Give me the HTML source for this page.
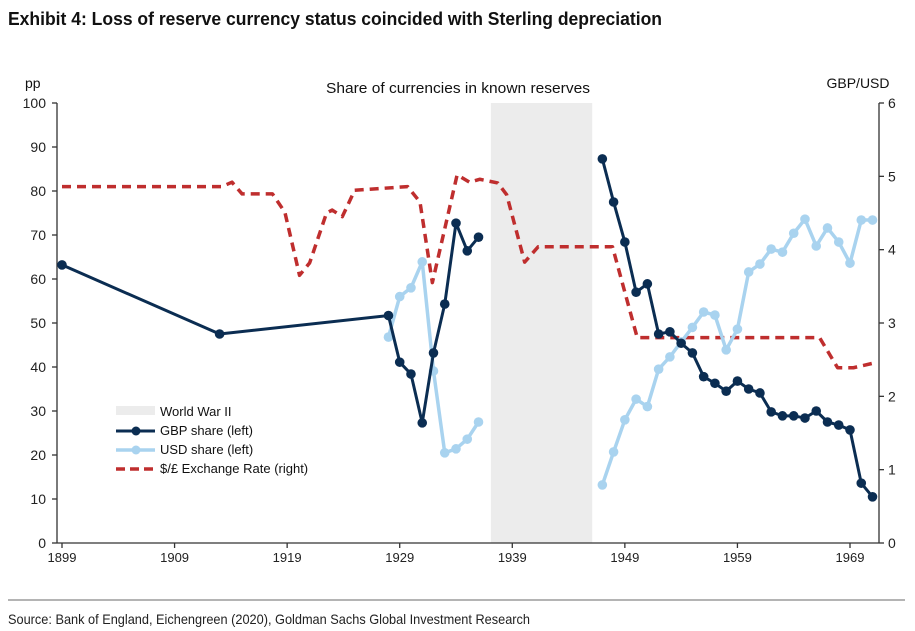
<!DOCTYPE html>
<html><head><meta charset="utf-8"><style>
html,body{margin:0;padding:0;background:#fff;}
svg{display:block;font-family:"Liberation Sans",Arial,sans-serif;}
</style></head><body>
<svg id="chart" width="915" height="631" viewBox="0 0 915 631">
<text x="8" y="25" font-size="18" font-weight="bold" fill="#111" textLength="654" lengthAdjust="spacingAndGlyphs">Exhibit 4: Loss of reserve currency status coincided with Sterling depreciation</text>
<text x="25" y="88" font-size="14" fill="#111">pp</text>
<text x="458" y="93" font-size="15" fill="#111" text-anchor="middle" textLength="264" lengthAdjust="spacingAndGlyphs">Share of currencies in known reserves</text>
<text x="858" y="88" font-size="14" fill="#111" text-anchor="middle">GBP/USD</text>
<g id="plot"></g>
<line x1="8" y1="600" x2="905" y2="600" stroke="#888" stroke-width="1.2"/>
<text x="8" y="624" font-size="14" fill="#222" textLength="522" lengthAdjust="spacingAndGlyphs">Source: Bank of England, Eichengreen (2020), Goldman Sachs Global Investment Research</text>
</svg>
<script>
const preYears=[1899,1913,1928,1929,1930,1931,1932,1933,1934,1935,1936];
const preGBP=[63.2,47.5,51.7,41.1,38.4,27.3,43.2,54.3,72.7,66.4,69.5];
const preUSDYears=[1928,1929,1930,1931,1932,1933,1934,1935,1936];
const preUSD=[46.8,56,58,63.9,39.1,20.5,21.4,23.6,27.5];
const postYears=[1947,1948,1949,1950,1951,1952,1953,1954,1955,1956,1957,1958,1959,1960,1961,1962,1963,1964,1965,1966,1967,1968,1969,1970,1971];
const postGBP=[87.3,77.5,68.4,57,58.9,47.5,48,45.4,43.2,37.8,36.3,34.5,36.8,35,34.1,29.8,28.9,28.9,28.4,30,27.5,26.8,25.7,13.6,10.5];
const postUSD=[13.2,20.7,28,32.7,31,39.5,42.3,45.7,49,52.5,51.8,43.9,48.6,61.6,63.4,66.8,66.1,70.4,73.6,67.5,71.6,68.4,63.6,73.4,73.4];
const fxYears=[1899,1913.2,1914.1,1915,1917.7,1918.8,1920.1,1921,1922.5,1923,1923.9,1925,1929.7,1930.8,1931.9,1934.1,1935.2,1936.1,1937.7,1938.5,1940.1,1941.3,1947.9,1950.1,1966.3,1967.9,1969.3,1971];
const fxRate=[4.86,4.86,4.92,4.76,4.76,4.51,3.65,3.82,4.5,4.54,4.45,4.81,4.86,4.65,3.55,5.02,4.92,4.96,4.91,4.75,3.83,4.04,4.04,2.8,2.8,2.39,2.39,2.45];
const warSpan=[1937.1,1946.1];
const leftTicks=[0,10,20,30,40,50,60,70,80,90,100];
const rightTicks=[0,1,2,3,4,5,6];
const xTicks=[1899,1909,1919,1929,1939,1949,1959,1969];

const NS="http://www.w3.org/2000/svg";
const g=document.getElementById('plot');
const X=y=>62+(y-1899)*(788/70);
const YL=v=>543-v*4.4;
const YR=v=>543-v*(440/6);
function mk(t,a,p){const e=document.createElementNS(NS,t);for(const k in a)e.setAttribute(k,a[k]);(p||g).appendChild(e);return e;}

const war=mk('rect',{x:X(warSpan[0]),y:103,width:X(warSpan[1])-X(warSpan[0]),height:440,fill:'#ececec'});



const axes=mk('g',{stroke:'#333','stroke-width':1.3});


mk('line',{x1:57,y1:103,x2:57,y2:543},axes);
mk('line',{x1:879,y1:103,x2:879,y2:543},axes);
mk('line',{x1:57,y1:543,x2:879,y2:543},axes);
leftTicks.forEach(v=>{
  mk('line',{x1:52,y1:YL(v),x2:57,y2:YL(v)},axes);
  const t=mk('text',{x:46,y:YL(v)+5,'font-size':14,'text-anchor':'end',fill:'#222'});
  t.textContent=v;
  
  
});
rightTicks.forEach(v=>{
  mk('line',{x1:879,y1:YR(v),x2:884,y2:YR(v)},axes);
  const t=mk('text',{x:888,y:YR(v)+5,'font-size':14,fill:'#222'});
  t.textContent=v;
  
  
});
xTicks.forEach(v=>{
  mk('line',{x1:X(v),y1:543,x2:X(v),y2:548},axes);
  const t=mk('text',{x:X(v),y:562,'font-size':13,'text-anchor':'middle',fill:'#222'});
  t.textContent=v;
  
  
});

const fxPts=fxYears.map((y,i)=>X(y)+','+YR(fxRate[i])).join(' ');
const fx=mk('polyline',{points:fxPts,fill:'none',stroke:'#bf2e2e','stroke-width':3.5,'stroke-dasharray':'9 6','stroke-linejoin':'round'});



function series(years,vals,color,w,name){
  const pl=mk('polyline',{points:years.map((y,i)=>X(y)+','+YL(vals[i])).join(' '),fill:'none',stroke:color,'stroke-width':w,'stroke-linejoin':'round'});
  
  
  years.forEach((y,i)=>{
    const c=mk('circle',{cx:X(y),cy:YL(vals[i]),r:4.8,fill:color});
    
    
  });
}
series(preUSDYears,preUSD,'#a9d3ef',3.5,'usd-share');
series(postYears,postUSD,'#a9d3ef',3.5,'usd-share');
series(preYears,preGBP,'#0b2d52',3,'gbp-share');
series(postYears,postGBP,'#0b2d52',3,'gbp-share');

const lg=mk('g',{});


mk('rect',{x:116,y:406,width:39,height:9,fill:'#ececec'},lg);
mk('line',{x1:116,y1:431,x2:155,y2:431,stroke:'#0b2d52','stroke-width':3},lg);
mk('circle',{cx:136,cy:431,r:4.5,fill:'#0b2d52'},lg);
mk('line',{x1:116,y1:450,x2:155,y2:450,stroke:'#a9d3ef','stroke-width':3.5},lg);
mk('circle',{cx:136,cy:450,r:4.5,fill:'#a9d3ef'},lg);
mk('line',{x1:116,y1:469,x2:155,y2:469,stroke:'#bf2e2e','stroke-width':3.5,'stroke-dasharray':'9 5'},lg);
const labels=['World War II','GBP share (left)','USD share (left)','$/£ Exchange Rate (right)'];
const names=['legend-world-war-ii','legend-gbp-share','legend-usd-share','legend-fx-rate'];
labels.forEach((s,i)=>{
  const t=mk('text',{x:160,y:416+i*19,'font-size':13,fill:'#111'},lg);
  t.textContent=s;
  
  
});
</script>
</body></html>
